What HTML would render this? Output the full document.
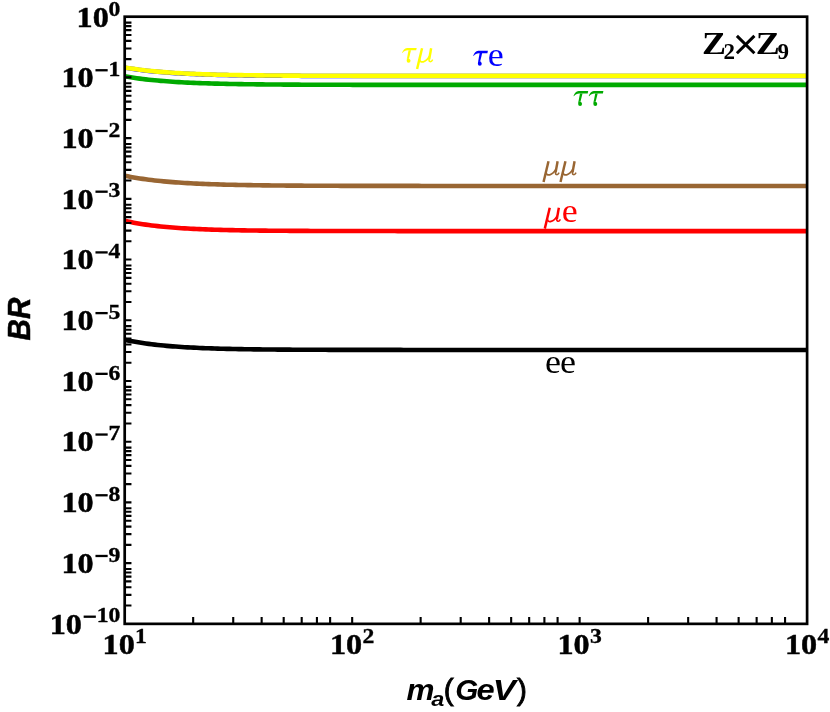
<!DOCTYPE html>
<html><head><meta charset="utf-8"><title>BR plot</title>
<style>html,body{margin:0;padding:0;background:#fff;}body{width:830px;height:712px;overflow:hidden;}svg{display:block;transform:translateZ(0);will-change:transform;}text{font-family:"Liberation Serif",serif;}.tk{font-family:"Liberation Serif",serif;font-weight:bold;font-size:30.4px;fill:#000;stroke:#000;stroke-width:0.5px;}.sp{font-family:"Liberation Serif",serif;font-weight:bold;font-size:21.5px;fill:#000;stroke:#000;stroke-width:0.35px;}.ax{font-family:"Liberation Sans",sans-serif;font-weight:bold;font-style:italic;fill:#000;}.lb{font-family:"Liberation Serif",serif;font-size:33.3px;}</style></head><body>
<svg width="830" height="712" viewBox="0 0 830 712">
<rect x="0" y="0" width="830" height="712" fill="#ffffff"/>
<g>
<polyline fill="none" stroke="#0000ff" stroke-width="4.50" stroke-linejoin="round" points="124.70,67.60 127.70,68.11 130.70,68.60 133.70,69.05 136.70,69.48 139.70,69.88 142.70,70.26 145.70,70.61 148.70,70.94 151.70,71.26 154.70,71.55 157.70,71.83 160.70,72.08 163.70,72.33 166.70,72.56 169.70,72.77 172.70,72.97 175.70,73.16 178.70,73.34 181.70,73.51 184.70,73.66 187.70,73.81 190.70,73.95 193.70,74.08 196.70,74.20 199.70,74.32 202.70,74.43 205.70,74.53 208.70,74.62 211.70,74.71 214.70,74.80 217.70,74.88 220.70,74.95 223.70,75.02 226.70,75.08 229.70,75.15 232.70,75.20 235.70,75.26 238.70,75.31 241.70,75.36 244.70,75.40 247.70,75.44 250.70,75.48 253.70,75.52 256.70,75.56 259.70,75.59 262.70,75.62 265.70,75.65 268.70,75.68 271.70,75.70 274.70,75.73 277.70,75.75 280.70,75.77 283.70,75.79 286.70,75.81 289.70,75.83 292.70,75.84 295.70,75.86 298.70,75.87 301.70,75.89 304.70,75.90 307.70,75.91 310.70,75.92 313.70,75.93 316.70,75.94 319.70,75.95 322.70,75.96 325.70,75.97 328.70,75.98 331.70,75.99 334.70,75.99 337.70,76.00 340.70,76.01 343.70,76.01 346.70,76.02 349.70,76.02 352.70,76.03 355.70,76.03 358.70,76.04 361.70,76.04 364.70,76.04 367.70,76.05 370.70,76.05 373.70,76.05 376.70,76.06 379.70,76.06 382.70,76.06 385.70,76.06 388.70,76.07 391.70,76.07 394.70,76.07 397.70,76.07 400.70,76.07 403.70,76.07 406.70,76.08 409.70,76.08 412.70,76.08 415.70,76.08 418.70,76.08 421.70,76.08 451.70,76.09 481.70,76.09 511.70,76.10 541.70,76.10 571.70,76.10 601.70,76.10 631.70,76.10 661.70,76.10 691.70,76.10 721.70,76.10 751.70,76.10 781.70,76.10 807.10,76.10"/>
<polyline fill="none" stroke="#ffff00" stroke-width="4.60" stroke-linejoin="round" points="124.70,67.40 127.70,67.91 130.70,68.40 133.70,68.85 136.70,69.28 139.70,69.68 142.70,70.06 145.70,70.41 148.70,70.74 151.70,71.06 154.70,71.35 157.70,71.63 160.70,71.88 163.70,72.13 166.70,72.36 169.70,72.57 172.70,72.77 175.70,72.96 178.70,73.14 181.70,73.31 184.70,73.46 187.70,73.61 190.70,73.75 193.70,73.88 196.70,74.00 199.70,74.12 202.70,74.23 205.70,74.33 208.70,74.42 211.70,74.51 214.70,74.60 217.70,74.68 220.70,74.75 223.70,74.82 226.70,74.88 229.70,74.95 232.70,75.00 235.70,75.06 238.70,75.11 241.70,75.16 244.70,75.20 247.70,75.24 250.70,75.28 253.70,75.32 256.70,75.36 259.70,75.39 262.70,75.42 265.70,75.45 268.70,75.48 271.70,75.50 274.70,75.53 277.70,75.55 280.70,75.57 283.70,75.59 286.70,75.61 289.70,75.63 292.70,75.64 295.70,75.66 298.70,75.67 301.70,75.69 304.70,75.70 307.70,75.71 310.70,75.72 313.70,75.73 316.70,75.74 319.70,75.75 322.70,75.76 325.70,75.77 328.70,75.78 331.70,75.79 334.70,75.79 337.70,75.80 340.70,75.81 343.70,75.81 346.70,75.82 349.70,75.82 352.70,75.83 355.70,75.83 358.70,75.84 361.70,75.84 364.70,75.84 367.70,75.85 370.70,75.85 373.70,75.85 376.70,75.86 379.70,75.86 382.70,75.86 385.70,75.86 388.70,75.87 391.70,75.87 394.70,75.87 397.70,75.87 400.70,75.87 403.70,75.87 406.70,75.88 409.70,75.88 412.70,75.88 415.70,75.88 418.70,75.88 421.70,75.88 451.70,75.89 481.70,75.89 511.70,75.90 541.70,75.90 571.70,75.90 601.70,75.90 631.70,75.90 661.70,75.90 691.70,75.90 721.70,75.90 751.70,75.90 781.70,75.90 807.10,75.90"/>
<polyline fill="none" stroke="#00aa00" stroke-width="4.60" stroke-linejoin="round" points="124.70,76.30 127.70,76.82 130.70,77.31 133.70,77.77 136.70,78.20 139.70,78.61 142.70,78.99 145.70,79.35 148.70,79.68 151.70,80.00 154.70,80.30 157.70,80.58 160.70,80.84 163.70,81.08 166.70,81.31 169.70,81.53 172.70,81.74 175.70,81.93 178.70,82.11 181.70,82.28 184.70,82.44 187.70,82.59 190.70,82.73 193.70,82.86 196.70,82.98 199.70,83.10 202.70,83.21 205.70,83.31 208.70,83.41 211.70,83.50 214.70,83.58 217.70,83.66 220.70,83.74 223.70,83.81 226.70,83.87 229.70,83.94 232.70,83.99 235.70,84.05 238.70,84.10 241.70,84.15 244.70,84.19 247.70,84.24 250.70,84.28 253.70,84.31 256.70,84.35 259.70,84.38 262.70,84.41 265.70,84.44 268.70,84.47 271.70,84.50 274.70,84.52 277.70,84.55 280.70,84.57 283.70,84.59 286.70,84.61 289.70,84.62 292.70,84.64 295.70,84.66 298.70,84.67 301.70,84.68 304.70,84.70 307.70,84.71 310.70,84.72 313.70,84.73 316.70,84.74 319.70,84.75 322.70,84.76 325.70,84.77 328.70,84.78 331.70,84.78 334.70,84.79 337.70,84.80 340.70,84.80 343.70,84.81 346.70,84.82 349.70,84.82 352.70,84.83 355.70,84.83 358.70,84.83 361.70,84.84 364.70,84.84 367.70,84.85 370.70,84.85 373.70,84.85 376.70,84.85 379.70,84.86 382.70,84.86 385.70,84.86 388.70,84.86 391.70,84.87 394.70,84.87 397.70,84.87 400.70,84.87 403.70,84.87 406.70,84.88 409.70,84.88 412.70,84.88 415.70,84.88 418.70,84.88 421.70,84.88 451.70,84.89 481.70,84.89 511.70,84.90 541.70,84.90 571.70,84.90 601.70,84.90 631.70,84.90 661.70,84.90 691.70,84.90 721.70,84.90 751.70,84.90 781.70,84.90 807.10,84.90"/>
<polyline fill="none" stroke="#996633" stroke-width="4.60" stroke-linejoin="round" points="124.70,175.75 127.70,176.36 130.70,176.93 133.70,177.46 136.70,177.97 139.70,178.44 142.70,178.89 145.70,179.31 148.70,179.70 151.70,180.07 154.70,180.42 157.70,180.75 160.70,181.06 163.70,181.35 166.70,181.62 169.70,181.88 172.70,182.12 175.70,182.35 178.70,182.56 181.70,182.76 184.70,182.95 187.70,183.13 190.70,183.30 193.70,183.46 196.70,183.60 199.70,183.74 202.70,183.87 205.70,184.00 208.70,184.11 211.70,184.22 214.70,184.32 217.70,184.42 220.70,184.51 223.70,184.60 226.70,184.68 229.70,184.75 232.70,184.82 235.70,184.89 238.70,184.95 241.70,185.01 244.70,185.07 247.70,185.12 250.70,185.17 253.70,185.22 256.70,185.26 259.70,185.30 262.70,185.34 265.70,185.38 268.70,185.41 271.70,185.44 274.70,185.47 277.70,185.50 280.70,185.53 283.70,185.55 286.70,185.58 289.70,185.60 292.70,185.62 295.70,185.64 298.70,185.66 301.70,185.67 304.70,185.69 307.70,185.71 310.70,185.72 313.70,185.73 316.70,185.75 319.70,185.76 322.70,185.77 325.70,185.78 328.70,185.79 331.70,185.80 334.70,185.81 337.70,185.82 340.70,185.83 343.70,185.83 346.70,185.84 349.70,185.85 352.70,185.85 355.70,185.86 358.70,185.86 361.70,185.87 364.70,185.87 367.70,185.88 370.70,185.88 373.70,185.89 376.70,185.89 379.70,185.89 382.70,185.90 385.70,185.90 388.70,185.90 391.70,185.91 394.70,185.91 397.70,185.91 400.70,185.91 403.70,185.92 406.70,185.92 409.70,185.92 412.70,185.92 415.70,185.92 418.70,185.92 421.70,185.93 451.70,185.94 481.70,185.94 511.70,185.95 541.70,185.95 571.70,185.95 601.70,185.95 631.70,185.95 661.70,185.95 691.70,185.95 721.70,185.95 751.70,185.95 781.70,185.95 807.10,185.95"/>
<polyline fill="none" stroke="#ff0000" stroke-width="4.60" stroke-linejoin="round" points="124.70,220.80 127.70,221.46 130.70,222.09 133.70,222.67 136.70,223.21 139.70,223.72 142.70,224.20 145.70,224.64 148.70,225.06 151.70,225.45 154.70,225.81 157.70,226.15 160.70,226.47 163.70,226.77 166.70,227.05 169.70,227.31 172.70,227.56 175.70,227.78 178.70,228.00 181.70,228.20 184.70,228.38 187.70,228.56 190.70,228.72 193.70,228.88 196.70,229.02 199.70,229.15 202.70,229.28 205.70,229.40 208.70,229.51 211.70,229.61 214.70,229.71 217.70,229.80 220.70,229.88 223.70,229.96 226.70,230.03 229.70,230.10 232.70,230.17 235.70,230.23 238.70,230.28 241.70,230.33 244.70,230.38 247.70,230.43 250.70,230.47 253.70,230.51 256.70,230.55 259.70,230.59 262.70,230.62 265.70,230.65 268.70,230.68 271.70,230.71 274.70,230.73 277.70,230.76 280.70,230.78 283.70,230.80 286.70,230.82 289.70,230.84 292.70,230.85 295.70,230.87 298.70,230.88 301.70,230.90 304.70,230.91 307.70,230.92 310.70,230.93 313.70,230.95 316.70,230.96 319.70,230.96 322.70,230.97 325.70,230.98 328.70,230.99 331.70,231.00 334.70,231.00 337.70,231.01 340.70,231.02 343.70,231.02 346.70,231.03 349.70,231.03 352.70,231.04 355.70,231.04 358.70,231.04 361.70,231.05 364.70,231.05 367.70,231.05 370.70,231.06 373.70,231.06 376.70,231.06 379.70,231.06 382.70,231.07 385.70,231.07 388.70,231.07 391.70,231.07 394.70,231.07 397.70,231.08 400.70,231.08 403.70,231.08 406.70,231.08 409.70,231.08 412.70,231.08 415.70,231.08 418.70,231.09 421.70,231.09 451.70,231.09 481.70,231.10 511.70,231.10 541.70,231.10 571.70,231.10 601.70,231.10 631.70,231.10 661.70,231.10 691.70,231.10 721.70,231.10 751.70,231.10 781.70,231.10 807.10,231.10"/>
<polyline fill="none" stroke="#000000" stroke-width="4.60" stroke-linejoin="round" points="124.70,339.75 127.70,340.39 130.70,341.00 133.70,341.56 136.70,342.09 139.70,342.59 142.70,343.05 145.70,343.49 148.70,343.90 151.70,344.28 154.70,344.64 157.70,344.97 160.70,345.29 163.70,345.58 166.70,345.86 169.70,346.12 172.70,346.36 175.70,346.58 178.70,346.80 181.70,347.00 184.70,347.18 187.70,347.36 190.70,347.52 193.70,347.67 196.70,347.82 199.70,347.95 202.70,348.08 205.70,348.20 208.70,348.31 211.70,348.41 214.70,348.51 217.70,348.60 220.70,348.68 223.70,348.76 226.70,348.84 229.70,348.91 232.70,348.98 235.70,349.04 238.70,349.09 241.70,349.15 244.70,349.20 247.70,349.25 250.70,349.29 253.70,349.33 256.70,349.37 259.70,349.41 262.70,349.44 265.70,349.47 268.70,349.50 271.70,349.53 274.70,349.56 277.70,349.58 280.70,349.61 283.70,349.63 286.70,349.65 289.70,349.67 292.70,349.69 295.70,349.70 298.70,349.72 301.70,349.73 304.70,349.75 307.70,349.76 310.70,349.77 313.70,349.78 316.70,349.79 319.70,349.80 322.70,349.81 325.70,349.82 328.70,349.83 331.70,349.84 334.70,349.84 337.70,349.85 340.70,349.86 343.70,349.86 346.70,349.87 349.70,349.87 352.70,349.88 355.70,349.88 358.70,349.89 361.70,349.89 364.70,349.89 367.70,349.90 370.70,349.90 373.70,349.90 376.70,349.91 379.70,349.91 382.70,349.91 385.70,349.91 388.70,349.92 391.70,349.92 394.70,349.92 397.70,349.92 400.70,349.92 403.70,349.93 406.70,349.93 409.70,349.93 412.70,349.93 415.70,349.93 418.70,349.93 421.70,349.93 451.70,349.94 481.70,349.95 511.70,349.95 541.70,349.95 571.70,349.95 601.70,349.95 631.70,349.95 661.70,349.95 691.70,349.95 721.70,349.95 751.70,349.95 781.70,349.95 807.10,349.95"/>
</g>
<path d="M124.70 22.58 H131.45 M124.70 26.10 H131.45 M124.70 30.17 H131.45 M124.70 34.98 H131.45 M124.70 40.86 H131.45 M124.70 48.45 H131.45 M124.70 59.14 H131.45 M124.70 83.30 H131.45 M124.70 86.82 H131.45 M124.70 90.88 H131.45 M124.70 95.69 H131.45 M124.70 101.58 H131.45 M124.70 109.16 H131.45 M124.70 119.85 H131.45 M124.70 77.41 H131.45 M124.70 144.01 H131.45 M124.70 147.53 H131.45 M124.70 151.60 H131.45 M124.70 156.41 H131.45 M124.70 162.29 H131.45 M124.70 169.88 H131.45 M124.70 180.57 H131.45 M124.70 138.13 H131.45 M124.70 204.73 H131.45 M124.70 208.25 H131.45 M124.70 212.31 H131.45 M124.70 217.12 H131.45 M124.70 223.01 H131.45 M124.70 230.59 H131.45 M124.70 241.28 H131.45 M124.70 198.84 H131.45 M124.70 265.44 H131.45 M124.70 268.96 H131.45 M124.70 273.03 H131.45 M124.70 277.84 H131.45 M124.70 283.72 H131.45 M124.70 291.31 H131.45 M124.70 302.00 H131.45 M124.70 259.56 H131.45 M124.70 326.16 H131.45 M124.70 329.68 H131.45 M124.70 333.74 H131.45 M124.70 338.55 H131.45 M124.70 344.44 H131.45 M124.70 352.02 H131.45 M124.70 362.71 H131.45 M124.70 320.27 H131.45 M124.70 386.87 H131.45 M124.70 390.39 H131.45 M124.70 394.46 H131.45 M124.70 399.27 H131.45 M124.70 405.15 H131.45 M124.70 412.74 H131.45 M124.70 423.43 H131.45 M124.70 380.99 H131.45 M124.70 447.59 H131.45 M124.70 451.11 H131.45 M124.70 455.17 H131.45 M124.70 459.98 H131.45 M124.70 465.87 H131.45 M124.70 473.45 H131.45 M124.70 484.14 H131.45 M124.70 441.70 H131.45 M124.70 508.30 H131.45 M124.70 511.82 H131.45 M124.70 515.89 H131.45 M124.70 520.70 H131.45 M124.70 526.58 H131.45 M124.70 534.17 H131.45 M124.70 544.86 H131.45 M124.70 502.42 H131.45 M124.70 569.02 H131.45 M124.70 572.54 H131.45 M124.70 576.60 H131.45 M124.70 581.41 H131.45 M124.70 587.30 H131.45 M124.70 594.88 H131.45 M124.70 605.57 H131.45 M124.70 563.13 H131.45 M193.17 623.85 V617.10 M233.23 623.85 V617.10 M261.65 623.85 V617.10 M283.69 623.85 V617.10 M301.70 623.85 V617.10 M316.93 623.85 V617.10 M330.12 623.85 V617.10 M420.64 623.85 V617.10 M460.70 623.85 V617.10 M489.12 623.85 V617.10 M511.16 623.85 V617.10 M529.17 623.85 V617.10 M544.40 623.85 V617.10 M557.59 623.85 V617.10 M352.17 623.85 V617.10 M648.11 623.85 V617.10 M688.16 623.85 V617.10 M716.58 623.85 V617.10 M738.63 623.85 V617.10 M756.64 623.85 V617.10 M771.86 623.85 V617.10 M785.06 623.85 V617.10 M579.63 623.85 V617.10" stroke="#000" stroke-width="2.10" fill="none"/>
<rect x="124.70" y="16.70" width="682.40" height="607.15" fill="none" stroke="#000" stroke-width="2.70"/>
<g transform="translate(76.55,27.00) scale(1.060,1)"><text class="tk" x="0" y="0">10</text></g><g transform="translate(108.58,15.80) scale(1.100,1)"><text class="sp" x="0" y="0">0</text></g>
<g transform="translate(61.45,87.16) scale(1.060,1)"><text class="tk" x="0" y="0">10</text></g><rect x="95.47" y="69.11" width="12.2" height="2.3" fill="#000"/><g transform="translate(108.58,75.96) scale(1.100,1)"><text class="sp" x="0" y="0">1</text></g>
<g transform="translate(61.45,147.88) scale(1.060,1)"><text class="tk" x="0" y="0">10</text></g><rect x="95.47" y="129.83" width="12.2" height="2.3" fill="#000"/><g transform="translate(108.58,136.68) scale(1.100,1)"><text class="sp" x="0" y="0">2</text></g>
<g transform="translate(61.45,208.59) scale(1.060,1)"><text class="tk" x="0" y="0">10</text></g><rect x="95.47" y="190.54" width="12.2" height="2.3" fill="#000"/><g transform="translate(108.58,197.39) scale(1.100,1)"><text class="sp" x="0" y="0">3</text></g>
<g transform="translate(61.45,269.31) scale(1.060,1)"><text class="tk" x="0" y="0">10</text></g><rect x="95.47" y="251.26" width="12.2" height="2.3" fill="#000"/><g transform="translate(108.58,258.11) scale(1.100,1)"><text class="sp" x="0" y="0">4</text></g>
<g transform="translate(61.45,330.02) scale(1.060,1)"><text class="tk" x="0" y="0">10</text></g><rect x="95.47" y="311.97" width="12.2" height="2.3" fill="#000"/><g transform="translate(108.58,318.82) scale(1.100,1)"><text class="sp" x="0" y="0">5</text></g>
<g transform="translate(61.45,390.74) scale(1.060,1)"><text class="tk" x="0" y="0">10</text></g><rect x="95.47" y="372.69" width="12.2" height="2.3" fill="#000"/><g transform="translate(108.58,379.54) scale(1.100,1)"><text class="sp" x="0" y="0">6</text></g>
<g transform="translate(61.45,451.45) scale(1.060,1)"><text class="tk" x="0" y="0">10</text></g><rect x="95.47" y="433.40" width="12.2" height="2.3" fill="#000"/><g transform="translate(108.58,440.25) scale(1.100,1)"><text class="sp" x="0" y="0">7</text></g>
<g transform="translate(61.45,512.17) scale(1.060,1)"><text class="tk" x="0" y="0">10</text></g><rect x="95.47" y="494.12" width="12.2" height="2.3" fill="#000"/><g transform="translate(108.58,500.97) scale(1.100,1)"><text class="sp" x="0" y="0">8</text></g>
<g transform="translate(61.45,572.88) scale(1.060,1)"><text class="tk" x="0" y="0">10</text></g><rect x="95.47" y="554.83" width="12.2" height="2.3" fill="#000"/><g transform="translate(108.58,561.68) scale(1.100,1)"><text class="sp" x="0" y="0">9</text></g>
<g transform="translate(49.63,633.60) scale(1.060,1)"><text class="tk" x="0" y="0">10</text></g><rect x="83.65" y="615.55" width="12.2" height="2.3" fill="#000"/><g transform="translate(96.75,622.40) scale(1.100,1)"><text class="sp" x="0" y="0">10</text></g>
<g transform="translate(102.53,654.20) scale(1.060,1)"><text class="tk" x="0" y="0">10</text></g><g transform="translate(135.05,643.00) scale(1.100,1)"><text class="sp" x="0" y="0">1</text></g>
<g transform="translate(329.99,654.20) scale(1.060,1)"><text class="tk" x="0" y="0">10</text></g><g transform="translate(362.52,643.00) scale(1.100,1)"><text class="sp" x="0" y="0">2</text></g>
<g transform="translate(557.46,654.20) scale(1.060,1)"><text class="tk" x="0" y="0">10</text></g><g transform="translate(589.98,643.00) scale(1.100,1)"><text class="sp" x="0" y="0">3</text></g>
<g transform="translate(784.93,654.20) scale(1.060,1)"><text class="tk" x="0" y="0">10</text></g><g transform="translate(817.45,643.00) scale(1.100,1)"><text class="sp" x="0" y="0">4</text></g>
<g transform="translate(30.0,319) rotate(-90) scale(0.965,1)"><text class="ax" x="0" y="0" text-anchor="middle" font-size="30.7" style="stroke:#000;stroke-width:0.5px">BR</text></g>
<g transform="translate(406.40,700.40) scale(1.060,1)"><text class="ax" x="0" y="0" font-size="29.7" style="font-style:italic;font-weight:bold;">m</text></g>
<g transform="translate(431.20,706.00) scale(1.120,1)"><text class="ax" x="0" y="0" font-size="21" style="font-style:italic;font-weight:bold;">a</text></g>
<g transform="translate(443.75,700.40) scale(1.000,1)"><text class="ax" x="0" y="0" font-size="29.7" style="font-style:normal;font-weight:normal;stroke:#000;stroke-width:0.9px;">(</text></g>
<g transform="translate(455.25,700.40) scale(1.000,1)"><text class="ax" x="0" y="0" font-size="29.7" style="font-style:italic;font-weight:bold;">G</text></g>
<g transform="translate(476.60,700.40) scale(1.100,1)"><text class="ax" x="0" y="0" font-size="29.7" style="font-style:italic;font-weight:bold;">e</text></g>
<g transform="translate(492.65,700.40) scale(1.160,1)"><text class="ax" x="0" y="0" font-size="29.7" style="font-style:italic;font-weight:bold;">V</text></g>
<g transform="translate(517.05,700.40) scale(1.000,1)"><text class="ax" x="0" y="0" font-size="29.7" style="font-style:normal;font-weight:normal;stroke:#000;stroke-width:0.9px;">)</text></g>
<g transform="translate(401.90,62.80)" fill="#ffff00" stroke="none"><path d="M0.1,-9.9 C1.3,-12.6 2.6,-14.9 5.2,-14.9 H14.8 L14.3,-12.5 H5.9 C3.6,-12.5 2,-11.6 0.5,-9.7 Z"/><path d="M6.6,-12.6 L9.1,-12.6 L7.1,-4.4 L5.0,-4.0 Z"/><circle cx="6.7" cy="-1.95" r="1.95"/><path d="M5.0,-4.2 L7.1,-4.6 L7.9,-3.0 L4.9,-2.6 Z"/></g>
<g transform="translate(415.60,62.60)" fill="none" stroke="#ffff00" stroke-linecap="butt"><path d="M6.45,-14.4 L1.5,6.4" stroke-width="2.45"/><path d="M15.55,-14.4 L13.55,-3.2" stroke-width="2.45"/><path d="M13.5,-4 C12.9,-0.4 15.6,0 17.1,-2.9" stroke-width="1.5"/><path d="M3.7,-3.8 C4.3,1.5 10.4,-0.1 13.9,-6.4" stroke-width="1.75"/></g>
<g transform="translate(473.10,65.70)" fill="#0000ff" stroke="none"><path d="M0.1,-9.9 C1.3,-12.6 2.6,-14.9 5.2,-14.9 H14.8 L14.3,-12.5 H5.9 C3.6,-12.5 2,-11.6 0.5,-9.7 Z"/><path d="M6.6,-12.6 L9.1,-12.6 L7.1,-4.4 L5.0,-4.0 Z"/><circle cx="6.7" cy="-1.95" r="1.95"/><path d="M5.0,-4.2 L7.1,-4.6 L7.9,-3.0 L4.9,-2.6 Z"/></g>
<g transform="translate(487.70,65.60) scale(1.08,1)"><text class="lb" x="0" y="0" fill="#0000ff">e</text></g>
<g transform="translate(573.40,106.00)" fill="#00aa00" stroke="none"><path d="M0.1,-9.9 C1.3,-12.6 2.6,-14.9 5.2,-14.9 H14.8 L14.3,-12.5 H5.9 C3.6,-12.5 2,-11.6 0.5,-9.7 Z"/><path d="M6.6,-12.6 L9.1,-12.6 L7.1,-4.4 L5.0,-4.0 Z"/><circle cx="6.7" cy="-1.95" r="1.95"/><path d="M5.0,-4.2 L7.1,-4.6 L7.9,-3.0 L4.9,-2.6 Z"/></g>
<g transform="translate(588.60,106.00)" fill="#00aa00" stroke="none"><path d="M0.1,-9.9 C1.3,-12.6 2.6,-14.9 5.2,-14.9 H14.8 L14.3,-12.5 H5.9 C3.6,-12.5 2,-11.6 0.5,-9.7 Z"/><path d="M6.6,-12.6 L9.1,-12.6 L7.1,-4.4 L5.0,-4.0 Z"/><circle cx="6.7" cy="-1.95" r="1.95"/><path d="M5.0,-4.2 L7.1,-4.6 L7.9,-3.0 L4.9,-2.6 Z"/></g>
<g transform="translate(542.05,175.60)" fill="none" stroke="#996633" stroke-linecap="butt"><path d="M6.45,-14.4 L1.5,6.4" stroke-width="2.45"/><path d="M15.55,-14.4 L13.55,-3.2" stroke-width="2.45"/><path d="M13.5,-4 C12.9,-0.4 15.6,0 17.1,-2.9" stroke-width="1.5"/><path d="M3.7,-3.8 C4.3,1.5 10.4,-0.1 13.9,-6.4" stroke-width="1.75"/></g>
<g transform="translate(559.00,175.60)" fill="none" stroke="#996633" stroke-linecap="butt"><path d="M6.45,-14.4 L1.5,6.4" stroke-width="2.45"/><path d="M15.55,-14.4 L13.55,-3.2" stroke-width="2.45"/><path d="M13.5,-4 C12.9,-0.4 15.6,0 17.1,-2.9" stroke-width="1.5"/><path d="M3.7,-3.8 C4.3,1.5 10.4,-0.1 13.9,-6.4" stroke-width="1.75"/></g>
<g transform="translate(543.30,222.20)" fill="none" stroke="#ff0000" stroke-linecap="butt"><path d="M6.45,-14.4 L1.5,6.4" stroke-width="2.45"/><path d="M15.55,-14.4 L13.55,-3.2" stroke-width="2.45"/><path d="M13.5,-4 C12.9,-0.4 15.6,0 17.1,-2.9" stroke-width="1.5"/><path d="M3.7,-3.8 C4.3,1.5 10.4,-0.1 13.9,-6.4" stroke-width="1.75"/></g>
<g transform="translate(561.75,222.40) scale(1.08,1)"><text class="lb" x="0" y="0" fill="#ff0000">e</text></g>
<g transform="translate(545.10,372.60) scale(1.08,1)"><text class="lb" x="0" y="0" fill="#000000">e</text></g>
<g transform="translate(559.90,372.60) scale(1.08,1)"><text class="lb" x="0" y="0" fill="#000000">e</text></g>
<g transform="translate(702.0,53.5) scale(1.120,1)"><text x="0" y="0" font-weight="bold" font-size="32.2" fill="#000">Z</text></g>
<text x="723.6" y="58.7" font-weight="bold" font-size="23" fill="#000">2</text>
<path d="M736.9,35.9 L754.4,53.3 M754.4,35.9 L736.9,53.3" stroke="#000" stroke-width="3" fill="none"/>
<g transform="translate(755.8,53.5) scale(1.120,1)"><text x="0" y="0" font-weight="bold" font-size="32.2" fill="#000">Z</text></g>
<text x="777.4" y="58.7" font-weight="bold" font-size="23" fill="#000">9</text>
</svg></body></html>
